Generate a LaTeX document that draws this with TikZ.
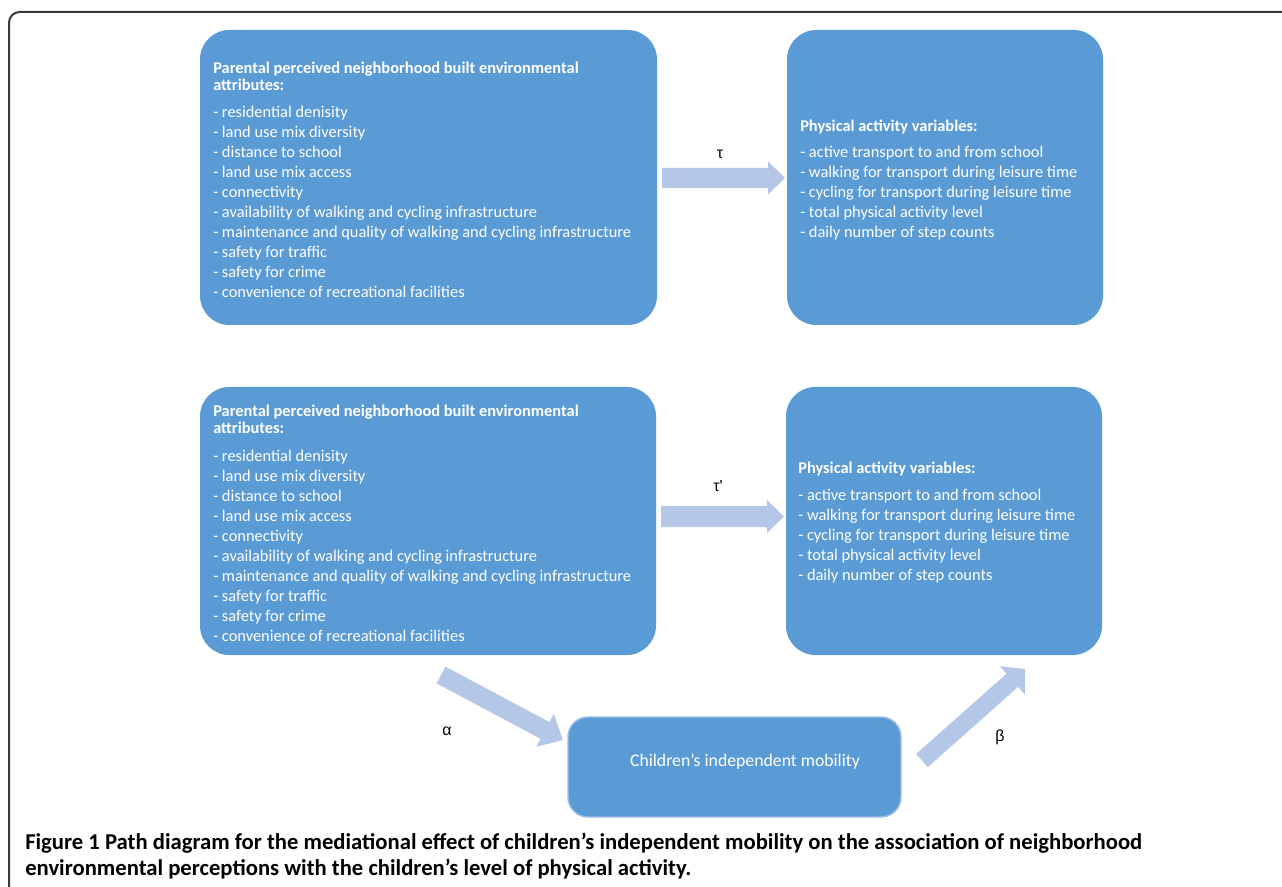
\documentclass[tikz,border=0pt]{standalone}
\usepackage{fontspec}
\setmainfont{Carlito}
\newfontfamily\arialf{Liberation Sans}
\usetikzlibrary{calc}
\definecolor{boxblue}{HTML}{5B9BD5}
\definecolor{arrowblue}{HTML}{B4C7E7}
\definecolor{frameg}{HTML}{3A3A3A}
\definecolor{edgeblue}{HTML}{9DBCE6}
\newcommand\mkarrow[6]{% name, tail, tip, body half width, head half width, head length
  \coordinate (#1h) at ($(#3)!#6!(#2)$);
  \fill[arrowblue] ($(#2)!#4!90:(#3)$) -- ($(#1h)!#4!90:(#3)$) -- ($(#1h)!#5!90:(#3)$) -- (#3)
    -- ($(#1h)!#5!-90:(#3)$) -- ($(#1h)!#4!-90:(#3)$) -- ($(#2)!#4!-90:(#3)$) -- cycle;
}
\tikzset{
  box/.style={fill=boxblue, rounded corners=22pt, inner sep=0pt, outer sep=0pt, anchor=north west},
  smallbox/.style={fill=boxblue, draw=edgeblue, line width=1.1pt, rounded corners=15pt, inner sep=0pt, outer sep=0pt, anchor=north west},
  ttl/.style={text=white, font=\fontsize{12.3}{14}\selectfont\bfseries, inner sep=0pt, anchor=base west},
  itm/.style={text=white, font=\fontsize{12.3}{14}\selectfont, inner sep=0pt, anchor=base west},
  greek/.style={font=\arialf\fontsize{12}{14}\selectfont, inner sep=0pt},
  captext/.style={font=\fontsize{17}{20}\selectfont\bfseries, inner sep=0pt, anchor=base west, text=black}
}
\begin{document}
\begin{tikzpicture}[x=0.75pt, y=-0.75pt]
\useasboundingbox (0,0) rectangle (1282,887);
\clip (0,0) rectangle (1282,887);
\fill[white] (0,0) rectangle (1282,887);
% frame
\draw[frameg, line width=1.5pt, rounded corners=8pt] (9,920) -- (9,12) -- (1320,12);
% boxes
\node[box, minimum width=342.75pt, minimum height=221.25pt] (b1) at (200,30) {};
\node[box, minimum width=237pt, minimum height=221.25pt] (b2) at (787,30) {};
\node[box, minimum width=342pt, minimum height=201pt] (b3) at (200,387) {};
\node[box, minimum width=237pt, minimum height=201pt] (b4) at (786,387) {};
\node[smallbox, minimum width=249.75pt, minimum height=75pt] (b5) at (568,717) {};
% box 1 text
\node[ttl] (t1a) at (213,73.5) {Parental perceived neighborhood built environmental};
\node[ttl] (t1b) at (213,90.5) {attributes:};
\foreach \s [count=\i from 0] in {- residential denisity, - land use mix diversity, - distance to school, - land use mix access, - connectivity, - availability of walking and cycling infrastructure, - maintenance and quality of walking and cycling infrastructure, - safety for traffic, - safety for crime, - convenience of recreational facilities}{
  \node[itm] (i1-\i) at (213,117.5+20*\i) {\s};
}
% box 2 text
\node[ttl] (t2) at (800,131.5) {Physical activity variables:};
\foreach \s [count=\i from 0] in {- active transport to and from school, - walking for transport during leisure time, - cycling for transport during leisure time, - total physical activity level, - daily number of step counts}{
  \node[itm] (i2-\i) at (800,157.5+20*\i) {\s};
}
% box 3 text
\node[ttl] (t3a) at (213,416.5) {Parental perceived neighborhood built environmental};
\node[ttl] (t3b) at (213,433.5) {attributes:};
\foreach \s [count=\i from 0] in {- residential denisity, - land use mix diversity, - distance to school, - land use mix access, - connectivity, - availability of walking and cycling infrastructure, - maintenance and quality of walking and cycling infrastructure, - safety for traffic, - safety for crime, - convenience of recreational facilities}{
  \node[itm] (i3-\i) at (213,461.5+20*\i) {\s};
}
% box 4 text
\node[ttl] (t4) at (798,473.5) {Physical activity variables:};
\foreach \s [count=\i from 0] in {- active transport to and from school, - walking for transport during leisure time, - cycling for transport during leisure time, - total physical activity level, - daily number of step counts}{
  \node[itm] (i4-\i) at (798,500.5+20*\i) {\s};
}
% box 5 text
\node[text=white, font=\fontsize{13.3}{15}\selectfont, inner sep=0pt] (t5) at (745,762) {Children’s independent mobility};
% arrows
\coordinate (a1t) at (662,178); \coordinate (a1p) at (785,178);
\coordinate (a2t) at (661,516.5); \coordinate (a2p) at (784,516.5);
\coordinate (a3t) at (441,675); \coordinate (a3p) at (563,740);
\coordinate (a4t) at (922,760.5); \coordinate (a4p) at (1025,669);
\mkarrow{a1}{a1t}{a1p}{7.5pt}{12.4pt}{12.75pt}
\mkarrow{a2}{a2t}{a2p}{7.9pt}{12.4pt}{12.75pt}
\mkarrow{a3}{a3t}{a3p}{7.1pt}{14pt}{15.3pt}
\mkarrow{a4}{a4t}{a4p}{6.6pt}{14.1pt}{12.75pt}
% labels
\node[greek] (tau) at (720,154) {τ};
\node[greek] (taup) at (718,486) {τ'};
\node[greek] (alpha) at (447,731) {α};
\node[greek] (beta) at (1000,737) {β};
% caption
\node[captext] (c1) at (25,849) {Figure 1 Path diagram for the mediational effect of children’s independent mobility on the association of neighborhood};
\node[captext] (c2) at (25,875) {environmental perceptions with the children’s level of physical activity.};
\end{tikzpicture}
\end{document}
